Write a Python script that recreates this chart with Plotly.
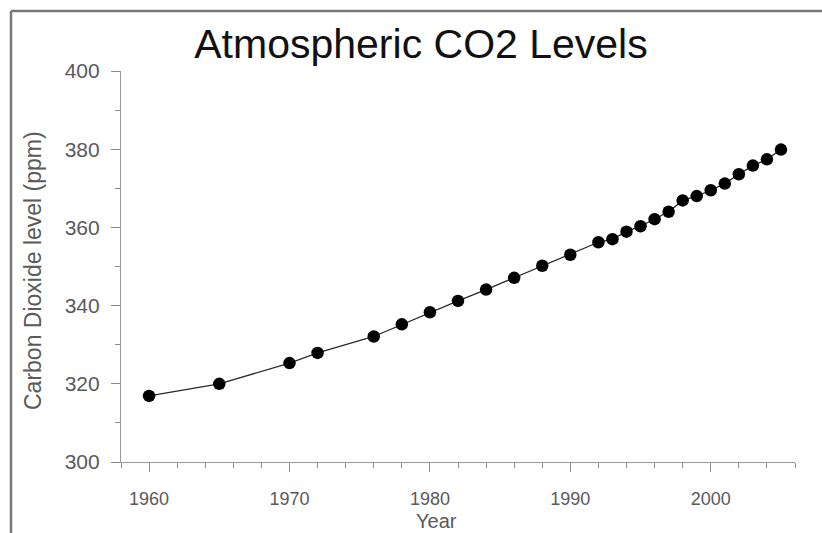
import plotly.graph_objects as go

years = [1960, 1965, 1970, 1972, 1976, 1978, 1980, 1982, 1984, 1986, 1988, 1990,
         1992, 1993, 1994, 1995, 1996, 1997, 1998, 1999, 2000, 2001, 2002, 2003, 2004, 2005]
co2 = [316.9, 320.0, 325.3, 327.9, 332.1, 335.2, 338.3, 341.2, 344.1, 347.1, 350.2, 353.0,
       356.2, 357.0, 358.9, 360.3, 362.1, 364.0, 366.9, 368.0, 369.5, 371.2, 373.6, 375.8, 377.4, 379.9]

title_text = "Atmospheric CO2 Levels"
x_title = "Year"
y_title = "Carbon Dioxide level (ppm)"

FONT = "Liberation Sans, Arial, sans-serif"
W, H = 822, 533
L, R, T, B = 121, 27, 71, 71
pw, ph = W - L - R, H - T - B

fig = go.Figure()
fig.add_trace(go.Scatter(
    x=years, y=co2, mode="lines+markers",
    line=dict(color="#2a2a2a", width=1.3),
    marker=dict(color="black", size=12.5),
    showlegend=False, hoverinfo="x+y",
))

axis_common = dict(
    showgrid=False, zeroline=False, showline=True, linecolor="#9a9a9a", linewidth=1.2,
    ticks="outside", tickcolor="#8a8a8a", tickwidth=1.2, ticklen=9,
)

fig.update_xaxes(range=[1958, 2006], tick0=1960, dtick=10,
                 minor=dict(dtick=2, tick0=1960, ticklen=5, tickcolor="#8a8a8a", tickwidth=1.2, ticks="outside"),
                 tickfont=dict(family=FONT, size=18, color="#5a5a5a"),
                 ticklabelstandoff=11,
                 **axis_common)
fig.update_yaxes(range=[300, 400], tick0=300, dtick=20,
                 minor=dict(dtick=10, tick0=300, ticklen=5, tickcolor="#8a8a8a", tickwidth=1.2, ticks="outside"),
                 tickfont=dict(family=FONT, size=21, color="#5a5a5a"),
                 ticklabelstandoff=7,
                 **axis_common)

bx0 = (11 - L) / pw
bxr = (W + 40 - L) / pw
by_top = ((H - B) - 11) / ph
by_bot = -(H + 40 - (H - B)) / ph

fig.update_layout(
    width=W, height=H,
    margin=dict(l=L, r=R, t=T, b=B, pad=0),
    paper_bgcolor="white", plot_bgcolor="white",
    title=dict(text=title_text, x=421 / W, xanchor="center", xref="container",
               y=1 - 44 / H, yanchor="middle", yref="container",
               font=dict(family=FONT, size=41, color="#111111")),
    annotations=[
        dict(text=x_title, xref="paper", yref="paper",
             x=(436 - L) / pw, y=-(521 - (H - B)) / ph, xanchor="center", yanchor="middle",
             showarrow=False, font=dict(family=FONT, size=20, color="#5a5a5a")),
        dict(text=y_title, xref="paper", yref="paper", textangle=-90,
             x=(33 - L) / pw, y=((H - B) - 270) / ph, xanchor="center", yanchor="middle",
             showarrow=False, font=dict(family=FONT, size=23, color="#5a5a5a")),
    ],
    shapes=[
        dict(type="line", xref="paper", yref="paper", x0=bx0, x1=bxr, y0=by_top, y1=by_top,
             line=dict(color="#777777", width=2.5), layer="below"),
        dict(type="line", xref="paper", yref="paper", x0=bx0, x1=bx0, y0=by_top, y1=by_bot,
             line=dict(color="#777777", width=2.5), layer="below"),
    ],
)

fig.write_html("out.html", config={"displayModeBar": False},
               post_script="document.body.style.margin='0';document.body.style.overflow='hidden';"
                           "document.documentElement.style.overflow='hidden';")
